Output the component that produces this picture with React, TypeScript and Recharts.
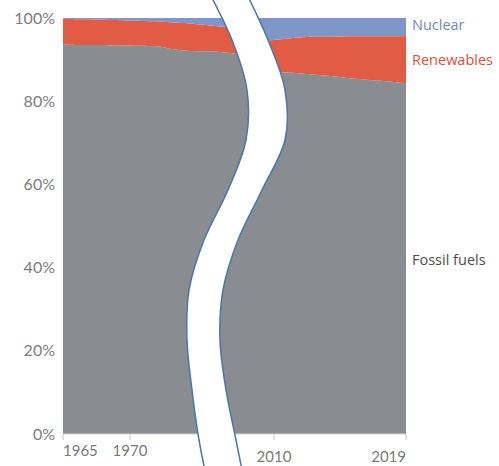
import { Area, AreaChart, XAxis, YAxis } from "recharts";

// share of primary energy, % (axis is broken between 1978 and 2009)
const years = [
  1965, 1966, 1967, 1968, 1969, 1970, 1971, 1972, 1973, 1974, 1975, 1976, 1977, 1978,
  2009, 2010, 2011, 2012, 2013, 2014, 2015, 2016, 2017, 2018, 2019,
];
const fossil = [
  93.6, 93.5, 93.5, 93.5, 93.4, 93.4, 93.3, 93.2, 92.6, 92.2, 92.0, 92.0, 91.7, 91.3,
  87.2, 87.0, 86.9, 86.6, 86.3, 86.0, 85.6, 85.3, 85.0, 84.7, 84.3,
];
const renewables = [
  6.2, 6.2, 6.2, 6.1, 6.1, 6.0, 6.0, 6.0, 6.4, 6.6, 6.5, 6.2, 6.2, 6.3,
  7.3, 7.7, 8.2, 8.8, 9.2, 9.5, 10.0, 10.3, 10.6, 10.9, 11.4,
];
const nuclear = [
  0.2, 0.3, 0.3, 0.4, 0.5, 0.6, 0.7, 0.8, 1.0, 1.2, 1.5, 1.8, 2.1, 2.4,
  5.5, 5.3, 4.9, 4.6, 4.5, 4.5, 4.4, 4.4, 4.4, 4.4, 4.3,
];

const tickYears = [1965, 1970, 2010, 2019];
const yTicks = [0, 20, 40, 60, 80, 100];

// broken axis: left part and right part get their own spacing
const axisPos = (year: number) =>
  year <= 1978 ? (year - 1965) * 13.4 : 343 - (2019 - year) * 14.67;

const data = years.map((year, i) => ({
  pos: axisPos(year),
  fossil: fossil[i],
  renewables: renewables[i],
  nuclear: nuclear[i],
}));

// white "break" band drawn over the chart
const leftEdge = [
  [208, -10], [232, 40], [247, 90], [246, 140], [228, 190], [204, 240], [189, 290],
  [187, 340], [192, 390], [199, 440], [209, 490],
];
const rightEdge = [
  [245, -10], [268, 40], [285, 90], [285, 140], [262, 190], [238, 240], [223, 290],
  [220, 340], [226, 390], [236, 440], [246, 490],
];

function curve(pts: number[][], start: string) {
  let d = `${start}${pts[0][0]},${pts[0][1]}`;
  for (let i = 0; i < pts.length - 1; i++) {
    const p0 = pts[i - 1] || pts[i];
    const p1 = pts[i];
    const p2 = pts[i + 1];
    const p3 = pts[i + 2] || p2;
    const c1 = [p1[0] + (p2[0] - p0[0]) / 6, p1[1] + (p2[1] - p0[1]) / 6];
    const c2 = [p2[0] - (p3[0] - p1[0]) / 6, p2[1] - (p3[1] - p1[1]) / 6];
    d += ` C${c1[0]},${c1[1]} ${c2[0]},${c2[1]} ${p2[0]},${p2[1]}`;
  }
  return d;
}

const YearTick = (props: any) => {
  const { x, y, payload } = props;
  const year = tickYears.find((t) => Math.abs(axisPos(t) - payload.value) < 0.01) ?? 0;
  const first = year === tickYears[0];
  const last = year === tickYears[tickYears.length - 1];
  return (
    <text
      x={x}
      y={y + (year > 2000 ? 20 : 14)}
      textAnchor={first ? "start" : last ? "end" : "middle"}
      fill="#7a7a7a"
      fontSize={15}
      fontFamily="Lato"
    >
      {year}
    </text>
  );
};

export default function App() {
  const band = curve(leftEdge, "M") + " " + curve([...rightEdge].reverse(), "L") + " Z";
  return (
    <div style={{ position: "absolute", left: 0, top: 0, width: 499, height: 466, background: "#fff" }}>
      <AreaChart width={499} height={466} data={data} margin={{ top: 18, right: 93, bottom: 0, left: 0 }}>
        <XAxis
          dataKey="pos"
          type="number"
          domain={[0, 343]}
          ticks={tickYears.map(axisPos)}
          interval={0}
          height={32}
          tickSize={6}
          tick={<YearTick />}
          tickLine={{ stroke: "#c4c4c4" }}
          axisLine={{ stroke: "#d4d4d4" }}
        />
        <YAxis
          width={63}
          domain={[0, 100]}
          ticks={yTicks}
          tickFormatter={(v) => `${v}%`}
          tickLine={false}
          axisLine={false}
          tick={{ fill: "#7d7d7d", fontSize: 16, fontFamily: "Lato" }}
        />
        <Area type="monotone" dataKey="fossil" stackId="1" stroke="none" fill="#898c90" fillOpacity={1} isAnimationActive={false} />
        <Area type="monotone" dataKey="renewables" stackId="1" stroke="none" fill="#e15b45" fillOpacity={1} isAnimationActive={false} />
        <Area type="monotone" dataKey="nuclear" stackId="1" stroke="none" fill="#7e96c8" fillOpacity={1} isAnimationActive={false} />
      </AreaChart>
      <svg width={499} height={466} style={{ position: "absolute", left: 0, top: 0 }}>
        <path d={band} fill="#fff" stroke="none" />
        <path d={curve(leftEdge, "M")} fill="none" stroke="#4a77a8" strokeWidth={1.5} />
        <path d={curve(rightEdge, "M")} fill="none" stroke="#4a77a8" strokeWidth={1.5} />
        <g fontFamily="Open Sans" fontSize={14.5}>
          <text x={412} y={30} fill="#6f88bd">Nuclear</text>
          <text x={412} y={65} fill="#df4f3b">Renewables</text>
          <text x={412} y={265} fill="#4d4d4d">Fossil fuels</text>
        </g>
      </svg>
    </div>
  );
}
